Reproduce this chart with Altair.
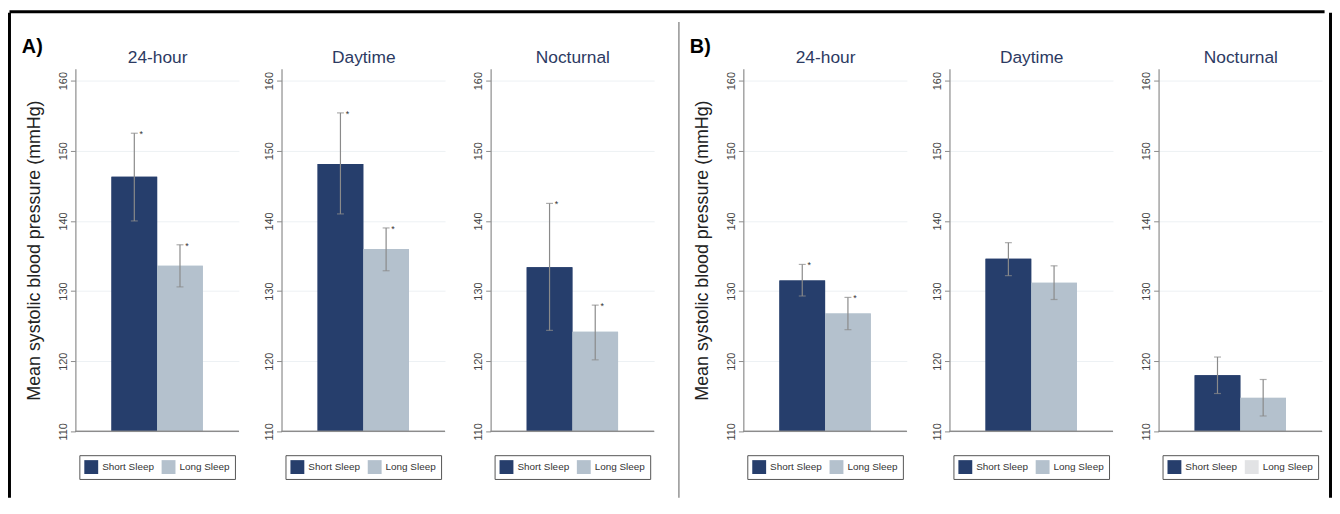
import altair as alt
import pandas as pd

# ---------------- data ----------------
panel_col = ["A)"] * 6 + ["B)"] * 6
period_col = ["24-hour", "24-hour", "Daytime", "Daytime", "Nocturnal", "Nocturnal"] * 2
group_col = ["Short Sleep", "Long Sleep"] * 6
mean_col = [146.3, 133.6, 148.1, 136.0, 133.4, 124.2,
            131.5, 126.8, 134.6, 131.2, 118.0, 114.8]
lo_col = [140.0, 130.6, 141.0, 132.9, 124.4, 120.2,
          129.3, 124.5, 132.2, 128.8, 115.4, 112.2]
hi_col = [152.5, 136.6, 155.4, 139.0, 142.5, 128.0,
          133.8, 129.1, 136.9, 133.6, 120.6, 117.4]
star_col = [1, 1, 1, 1, 1, 1,
            1, 1, 0, 0, 0, 0]

PANELS = ["A)", "B)"]
PERIODS = ["24-hour", "Daytime", "Nocturnal"]
GROUPS = ["Short Sleep", "Long Sleep"]
Y_TICKS = [110, 120, 130, 140, 150, 160]
Y_TITLE = "Mean systolic blood pressure (mmHg)"

df = pd.DataFrame({
    "panel": panel_col, "period": period_col, "group": group_col,
    "mean": mean_col, "lo": lo_col, "hi": hi_col, "star": star_col,
})

# ---------------- style ----------------
FONT = "Liberation Sans"
BAR_COLORS = ["#263e6c", "#b4c1cd"]
LEGEND_COLORS = {("B)", "Nocturnal"): ["#263e6c", "#e2e3e5"]}
ERR = "#8a8a8a"
AXC = "#8c8c8c"
TITLE_C = "#2c3a62"
PW, PH = 165, 366
Y_DOMAIN = [110, 161.7]

K = 56.5        # strip extent above plot origin
H = 433         # strip extent below plot origin
LW = 14         # left strip width
DW = 35         # divider strip width
DX = 24         # divider position inside its strip
DK = 47         # divider extent above plot origin
RW = 9          # right strip width
W = 1330        # total width
GAPS = [24, 27]

one = pd.DataFrame({"k": [0]})


def sub(panel, period, first):
    d = df[(df.panel == panel) & (df.period == period)]
    base = alt.Chart(d)
    xenc = alt.X("group:N",
                 scale=alt.Scale(domain=GROUPS, paddingInner=0, paddingOuter=0.79),
                 axis=alt.Axis(orient="top", labels=False, ticks=False, domain=False,
                               grid=False, title=period, titleFont=FONT,
                               titleFontSize=17.5, titleFontWeight="normal",
                               titleColor=TITLE_C, titlePadding=6,
                               titleBaseline="alphabetic"))
    yscale = alt.Scale(domain=Y_DOMAIN, nice=False, zero=False)
    yaxis = alt.Axis(values=Y_TICKS, title=Y_TITLE if first else None,
                     titleFont=FONT, titleFontSize=18, titleFontWeight="normal",
                     titleColor="#222222", titlePadding=14,
                     labelAngle=270, labelAlign="center", labelBaseline="bottom",
                     labelPadding=2, labelFont=FONT, labelFontSize=11,
                     labelColor="#444444", tickSize=5, tickColor=AXC,
                     domainColor=AXC, domainWidth=1.2, grid=True,
                     gridColor="#edf1f4", gridWidth=1)
    lcolors = LEGEND_COLORS.get((panel, period), BAR_COLORS)

    legend_layer = base.mark_bar().encode(
        x=xenc,
        y=alt.Y("mean:Q", scale=yscale, axis=yaxis),
        y2=alt.datum(110),
        color=alt.Color("group:N",
                        scale=alt.Scale(domain=GROUPS, range=lcolors),
                        legend=alt.Legend(orient="none", legendX=4, legendY=390,
                                          direction="horizontal", columns=2,
                                          title=None, symbolType="square",
                                          symbolSize=196, symbolStrokeWidth=0,
                                          labelFont=FONT, labelFontSize=10,
                                          labelColor="#333333", labelOffset=4,
                                          columnPadding=7, padding=5,
                                          strokeColor="#555555",
                                          fillColor="white")),
    )
    bar_layer = base.mark_bar().encode(
        x=xenc,
        y=alt.Y("mean:Q", scale=yscale, axis=yaxis),
        y2=alt.datum(110),
        fill=alt.Fill("group:N", scale=alt.Scale(domain=GROUPS, range=BAR_COLORS),
                      legend=None),
    )
    baseline = base.mark_rule(color=AXC, strokeWidth=1.2).encode(
        y=alt.datum(110))
    err = base.mark_rule(color=ERR, strokeWidth=1.2).encode(
        x=xenc,
        y=alt.Y("lo:Q", scale=yscale, axis=yaxis),
        y2="hi:Q",
    )
    cap_lo = base.mark_tick(color=ERR, size=7, thickness=1.2).encode(
        x=xenc, y=alt.Y("lo:Q", scale=yscale, axis=yaxis))
    cap_hi = base.mark_tick(color=ERR, size=7, thickness=1.2).encode(
        x=xenc, y=alt.Y("hi:Q", scale=yscale, axis=yaxis))
    stars = base.transform_filter("datum.star == 1").mark_text(
        text="*", dx=7, dy=1, fontSize=9, color="#333333", baseline="middle",
        font=FONT).encode(
        x=xenc, y=alt.Y("hi:Q", scale=yscale, axis=yaxis))

    layered = alt.layer(legend_layer, bar_layer, baseline, err, cap_lo, cap_hi,
                        stars).properties(width=PW, height=PH)
    if first:
        layered = layered.properties(
            title=alt.TitleParams(panel, anchor="start", frame="bounds", font=FONT,
                                  fontSize=20, fontWeight="bold", color="black",
                                  offset=-8, dx=-4))
    return layered


def vrule(width, xpos, color="black", sw=3, top=K):
    return alt.Chart(one).mark_rule(color=color, strokeWidth=sw).encode(
        x=alt.value(xpos), y=alt.value(-top), y2=alt.value(H)
    ).properties(width=width, height=PH)


def spacer(width):
    return alt.Chart(one).mark_rule(opacity=0).encode(
        x=alt.value(width / 2), y=alt.value(10), y2=alt.value(PH - 10)
    ).properties(width=width, height=PH)


cells = [vrule(LW, 1.5)]
for pi, p in enumerate(PANELS):
    for i, per in enumerate(PERIODS):
        cells.append(sub(p, per, i == 0))
        if i < 2:
            cells.append(spacer(GAPS[i]))
    if pi == 0:
        cells.append(vrule(DW, DX, color="#777777", sw=1.2, top=DK))
cells.append(vrule(RW, RW - 1.5))

top_strip = alt.Chart(one).mark_rule(color="black", strokeWidth=3).encode(
    x=alt.value(1.5), x2=alt.value(W - 1.5), y=alt.value(1.5)
).properties(width=W - 3, height=3)

mid = alt.hconcat(*cells, spacing=0).resolve_scale(
    color="independent", fill="independent").resolve_legend(color="independent")

chart = alt.vconcat(top_strip, mid, spacing=-2).resolve_scale(
    color="independent", fill="independent").resolve_legend(
    color="independent").properties(
    padding={"left": 0, "top": 0, "right": 0, "bottom": 0}
).configure(background="white", padding=0).configure_view(
    stroke="transparent", strokeWidth=0)

chart.save("out.html", embed_options={"renderer": "svg", "actions": False})
